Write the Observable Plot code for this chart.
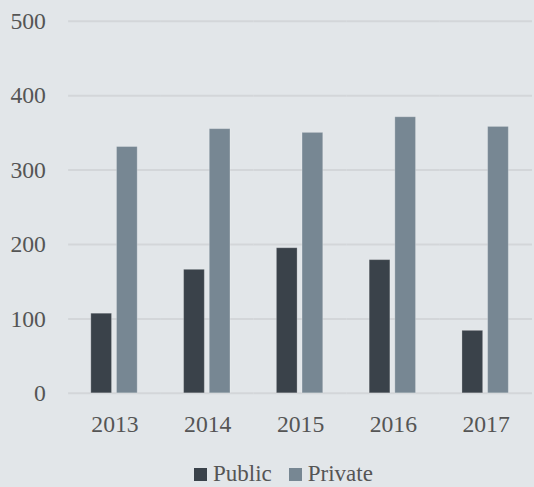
<!DOCTYPE html>
<html>
<head>
<meta charset="utf-8">
<script src="https://cdn.jsdelivr.net/npm/d3@7"></script>
<script src="https://cdn.jsdelivr.net/npm/@observablehq/plot@0.6"></script>
<style>
  html, body { margin: 0; padding: 0; background: #e2e6e9; overflow: hidden; width: 534px; height: 487px; }
  #chart { position: absolute; left: 0; top: 0; }
  #chart svg, #chart svg text { font-family: "Liberation Serif", "Times New Roman", "DejaVu Serif", serif !important; }
  #legend { position: absolute; left: 194px; top: 463px; font-family: "Liberation Serif", "Times New Roman", "DejaVu Serif", serif; font-size: 23px; line-height: 22px; color: #555; white-space: nowrap; }
  .item { display: inline-block; margin-right: 17px; }
  .sw { display: inline-block; width: 13px; height: 13px; margin-right: 6px; margin-bottom: 0px; vertical-align: baseline; }
</style>
</head>
<body>
<div id="chart"></div>
<div id="legend"></div>
<script>
const years = ["2013", "2014", "2015", "2016", "2017"];
const series = ["Public", "Private"];
const publicValues = [107, 166, 195, 179, 84];
const privateValues = [331, 355, 350, 371, 358];
const colors = ["#3a424a", "#778793"];
const yTicks = [0, 100, 200, 300, 400, 500];

const data = [];
years.forEach((yr, i) => {
  data.push({year: yr, series: "Public", value: publicValues[i]});
  data.push({year: yr, series: "Private", value: privateValues[i]});
});

const chart = Plot.plot({
  width: 541,
  height: 450,
  marginLeft: 67,
  marginRight: 0,
  marginTop: 21,
  marginBottom: 52,
  style: {background: "#e2e6e9", fontSize: "24px", color: "#555", overflow: "visible"},
  fx: {domain: years, padding: 0, paddingInner: 0, paddingOuter: 0, label: null, tickSize: 0, tickPadding: 22, axis: "bottom"},
  x: {domain: series, axis: null, paddingInner: 0.189, paddingOuter: 0.883},
  y: {domain: [0, 500], ticks: yTicks, tickSize: 0, tickPadding: 23, label: null},
  color: {domain: series, range: colors},
  marks: [
    Plot.ruleY(yTicks, {stroke: "#d3d6d9", strokeWidth: 2}),
    Plot.barY(data, {fx: "year", x: "series", y: "value", fill: "series", stroke: "#ffffff", strokeOpacity: 0.25, strokeWidth: 1})
  ]
});
document.getElementById("chart").appendChild(chart);

const legend = document.getElementById("legend");
series.forEach((s, i) => {
  const item = document.createElement("span");
  item.className = "item";
  const sw = document.createElement("span");
  sw.className = "sw";
  sw.style.background = colors[i];
  item.appendChild(sw);
  item.appendChild(document.createTextNode(s));
  legend.appendChild(item);
});
</script>
</body>
</html>
